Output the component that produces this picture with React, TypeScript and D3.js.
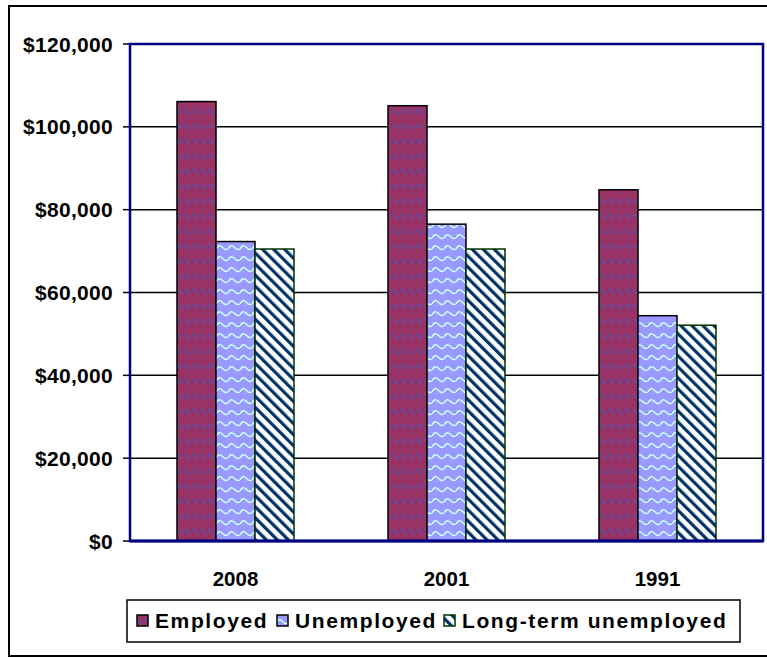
import React from "react";
import * as d3 from "d3";

const categories = ["2008", "2001", "1991"];
const seriesNames = ["Employed", "Unemployed", "Long-term unemployed"];
const employed = [106100, 105100, 84800];
const unemployed = [72300, 76500, 54400];
const longTerm = [70500, 70500, 52100];
const yTicks = [0, 20000, 40000, 60000, 80000, 100000, 120000];

const W = 767;
const H = 659;
const plot = { left: 130, right: 763, top: 44, bottom: 541 };
const fills = ["url(#pEmp)", "url(#pUnemp)", "url(#pLT)"];
const strokes = ["#000000", "#000000", "#003300"];
const FONT = "'Liberation Sans', Arial, sans-serif";

export default function App() {
  const series = [employed, unemployed, longTerm];
  const x = d3.scaleBand<string>().domain(categories).range([plot.left, plot.right]);
  const bw = x.bandwidth();
  const inner = d3
    .scaleBand<number>()
    .domain([0, 1, 2])
    .range([bw * (47 / 211), bw * (164 / 211)]);
  const y = d3.scaleLinear().domain([0, 120000]).range([plot.bottom, plot.top]);
  const fmt = (v: number) => "$" + d3.format(",")(v);

  const legendItems = [
    { sq: 137, tx: 155 },
    { sq: 277, tx: 295 },
    { sq: 444, tx: 462 },
  ];

  return (
    <svg
      width={W}
      height={H}
      style={{ position: "absolute", left: 0, top: 0, background: "#fff" }}
      fontFamily={FONT}
    >
      <defs>
        <pattern id="pEmp" width="8" height="15" patternUnits="userSpaceOnUse">
          <rect width="8" height="15" fill="#993366" />
          <line x1="1" y1="4" x2="6.5" y2="9.5" stroke="#3366CC" strokeWidth="1.6" strokeDasharray="2.5 1.2" />
        </pattern>
        <pattern id="pUnemp" width="12" height="11" patternUnits="userSpaceOnUse">
          <rect width="12" height="11" fill="#9999FF" />
          <path d="M0,7 Q3,1.5 6,5 Q9,8.5 12,7" fill="none" stroke="#CCFFFF" strokeWidth="1.5" />
        </pattern>
        <pattern
          id="pLT"
          width="7.8"
          height="7.8"
          patternUnits="userSpaceOnUse"
          patternTransform="rotate(-45)"
        >
          <rect width="7.8" height="7.8" fill="#ffffff" />
          <rect x="0" y="0" width="3.2" height="7.8" fill="#003366" />
        </pattern>
      </defs>

      {/* outer frame */}
      <rect x={9} y={6} width={780} height={650} fill="none" stroke="#000" strokeWidth={2} />

      {/* gridlines */}
      {yTicks
        .filter((t) => t > 0 && t < 120000)
        .map((t) => (
          <line key={t} x1={plot.left} x2={plot.right} y1={y(t)} y2={y(t)} stroke="#000" strokeWidth={1.5} />
        ))}

      {/* tick marks and labels */}
      {yTicks.map((t) => (
        <g key={"t" + t}>
          <line x1={plot.left - 7} x2={plot.left} y1={y(t)} y2={y(t)} stroke="#000" strokeWidth={1.5} />
          <text
            x={113}
            y={y(t)}
            textAnchor="end"
            dominantBaseline="central"
            fontWeight="bold"
            fontSize={21}
            letterSpacing={0.3}
            fill="#000"
          >
            {fmt(t)}
          </text>
        </g>
      ))}

      {/* bars */}
      {categories.map((c, ci) => (
        <g key={c}>
          {series.map((s, si) => (
            <rect
              key={si}
              x={(x(c) as number) + (inner(si) as number)}
              y={y(s[ci])}
              width={inner.bandwidth()}
              height={y(0) - y(s[ci])}
              fill={fills[si]}
              stroke={strokes[si]}
              strokeWidth={1.5}
            />
          ))}
        </g>
      ))}

      {/* plot border */}
      <rect
        x={plot.left}
        y={plot.top}
        width={plot.right - plot.left}
        height={plot.bottom - plot.top}
        fill="none"
        stroke="#000080"
        strokeWidth={2.5}
      />
      <line x1={plot.left} x2={plot.right} y1={plot.bottom} y2={plot.bottom} stroke="#000080" strokeWidth={3} />

      {/* category labels */}
      {categories.map((c) => (
        <text
          key={"c" + c}
          x={(x(c) as number) + bw / 2}
          y={586}
          textAnchor="middle"
          fontWeight="bold"
          fontSize={20.5}
          fill="#000"
        >
          {c}
        </text>
      ))}

      {/* legend */}
      <rect x={127} y={600} width={613} height={42} fill="#fff" stroke="#000" strokeWidth={1.5} />
      {seriesNames.map((n, i) => (
        <g key={n}>
          <rect
            x={legendItems[i].sq}
            y={615}
            width={11}
            height={11}
            fill={fills[i]}
            stroke={strokes[i]}
            strokeWidth={1.5}
          />
          <text
            x={legendItems[i].tx}
            y={628}
            fontWeight="bold"
            fontSize={21}
            letterSpacing={1.6}
            fill="#000"
          >
            {n}
          </text>
        </g>
      ))}
    </svg>
  );
}
